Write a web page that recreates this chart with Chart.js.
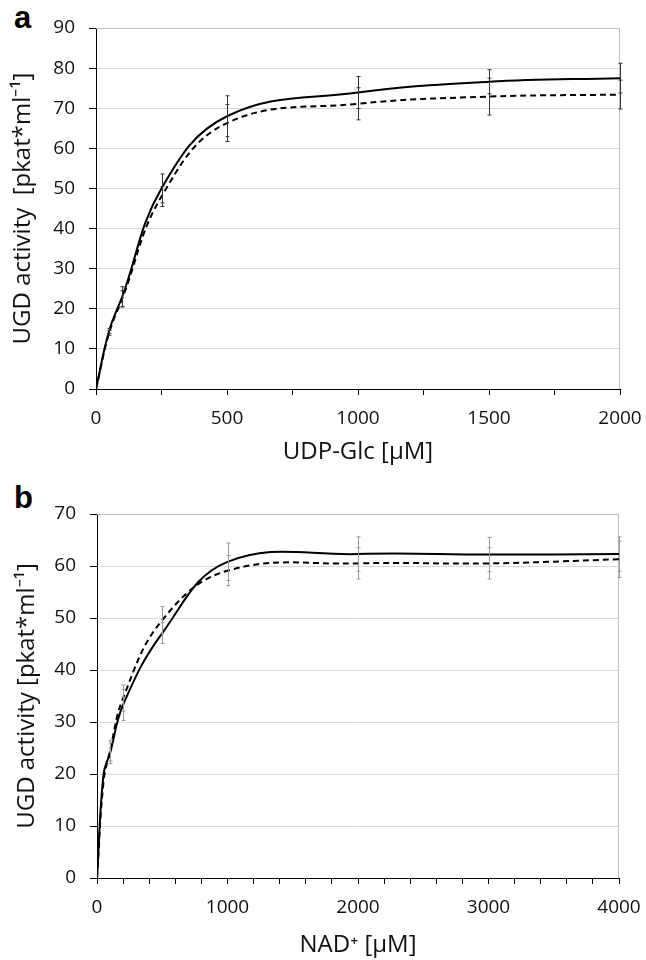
<!DOCTYPE html>
<html>
<head>
<meta charset="utf-8">
<script src="https://cdn.jsdelivr.net/npm/chart.js@4"></script>
<style>
  body { margin: 0; background: #fff; }
  #wrap { position: relative; width: 646px; height: 960px; }
  canvas { position: absolute; left: 0; }
  .panel { position: absolute; left: 14px; font: bold 31px 'Liberation Sans', Arial, sans-serif; line-height: 1; }
</style>
</head>
<body>
<div id="wrap">
  <div class="panel" style="top:2px">a</div>
  <canvas id="chartA" width="646" height="480" style="top:0"></canvas>
  <div class="panel" style="top:482px">b</div>
  <canvas id="chartB" width="646" height="480" style="top:480px"></canvas>
</div>
<script>
// panel a: UDP-Glc
const aConc = [0, 50, 100, 250, 500, 1000, 1500, 2000];
const aSolid = [0, 14.5, 23, 50, 68, 73.9, 76.6, 77.5];
const aSolidErr = [0, 0.6, 2.5, 3.6, 5.1, 4, 3, 3.7];
const aDashed = [0, 14, 22.5, 48, 66.3, 71.1, 72.9, 73.4];
const aDashedErr = [0, 0.6, 2, 2.5, 4.6, 4, 4.6, 3.6];

// panel b: NAD+
const bConc = [0, 50, 100, 200, 500, 1000, 2000, 3000, 4000];
const bSolid = [0, 20, 24, 33.3, 47.1, 60.8, 62.3, 62.2, 62.3];
const bSolidErr = [0, 0, 2, 3, 2, 3.6, 3.3, 3.3, 3.3];
const bDashed = [0, 18.5, 24.5, 34.6, 49.6, 59.1, 60.5, 60.5, 61.3];
const bDashedErr = [0, 0, 2, 2.5, 2.6, 2.9, 3, 3, 3.5];

Chart.defaults.font.family = "'Open Sans', sans-serif";
Chart.defaults.color = '#111';

const toXY = (xs, ys) => xs.map((x, i) => ({ x: x, y: ys[i] }));

// error bars + grey plot frame
const extras = {
  id: 'extras',
  beforeDatasetsDraw(chart) {
    const { ctx, chartArea: a } = chart;
    ctx.save();
    ctx.strokeStyle = '#bfbfbf';
    ctx.lineWidth = 1;
    ctx.beginPath();
    ctx.moveTo(a.left, a.top + 0.5);
    ctx.lineTo(a.right - 0.5, a.top + 0.5);
    ctx.lineTo(a.right - 0.5, a.bottom);
    ctx.stroke();
    ctx.restore();
  },
  afterDatasetsDraw(chart, args, opts) {
    const { ctx, scales } = chart;
    ctx.save();
    ctx.strokeStyle = opts.color;
    ctx.lineWidth = 1;
    chart.data.datasets.forEach(ds => {
      ds.data.forEach((p, i) => {
        const e = ds.errors[i];
        if (!e) return;
        const x = Math.round(scales.x.getPixelForValue(p.x)) + 0.5;
        const y1 = scales.y.getPixelForValue(p.y - e);
        const y2 = scales.y.getPixelForValue(p.y + e);
        ctx.beginPath();
        ctx.moveTo(x, y1); ctx.lineTo(x, y2);
        ctx.moveTo(x - 2, y1); ctx.lineTo(x + 2, y1);
        ctx.moveTo(x - 2, y2); ctx.lineTo(x + 2, y2);
        ctx.stroke();
      });
    });
    ctx.restore();
  }
};

function makeChart(id, conc, solid, solidErr, dashed, dashedErr, cfg) {
  return new Chart(document.getElementById(id), {
    type: 'line',
    data: {
      datasets: [
        { data: toXY(conc, solid), errors: solidErr, borderColor: '#000', borderWidth: 2, pointRadius: 0, tension: 0.4 },
        { data: toXY(conc, dashed), errors: dashedErr, borderColor: '#000', borderWidth: 2, borderDash: [6, 4], pointRadius: 0, tension: 0.4 }
      ]
    },
    options: {
      responsive: false,
      animation: false,
      layout: { padding: cfg.padding },
      plugins: {
        legend: { display: false },
        tooltip: { enabled: false },
        extras: { color: cfg.errColor }
      },
      scales: {
        x: {
          type: 'linear',
          min: 0, max: cfg.xMax,
          afterFit: s => { s.height = cfg.xHeight; s.paddingLeft = 0; s.paddingRight = 0; },
          border: { color: '#000', width: 1 },
          grid: { drawOnChartArea: false, tickLength: 6, tickColor: '#000' },
          ticks: {
            stepSize: cfg.xMinor, autoSkip: false, maxRotation: 0, padding: 12,
            font: { size: 19 },
            callback: v => (v % cfg.xMajor === 0 ? String(v) : '')
          },
          title: { display: true, text: cfg.xTitle, font: { size: 24 }, padding: { top: 0, bottom: cfg.xTitlePad } }
        },
        y: {
          min: 0, max: cfg.yMax,
          afterFit: s => { s.width = cfg.yWidth; },
          border: { color: '#000', width: 1 },
          grid: { color: '#d9d9d9', tickColor: '#000', tickLength: 7 },
          ticks: { stepSize: 10, padding: 14, font: { size: 19 } },
          title: { display: true, text: cfg.yTitle, font: { size: 24 }, padding: { top: cfg.yTitlePad, bottom: 0 } }
        }
      }
    },
    plugins: [extras]
  });
}

makeChart('chartA', aConc, aSolid, aSolidErr, aDashed, aDashedErr, {
  padding: { top: 28, right: 26, bottom: 0, left: 0 },
  xMax: 2000, xMinor: 250, xMajor: 500, xHeight: 91, xTitlePad: 13,
  yMax: 90, yWidth: 96, yTitlePad: 9,
  xTitle: 'UDP-Glc [μM]', yTitle: 'UGD activity  [pkat*ml⁻¹]',
  errColor: '#333'
});

makeChart('chartB', bConc, bSolid, bSolidErr, bDashed, bDashedErr, {
  padding: { top: 34, right: 27, bottom: 0, left: 0 },
  xMax: 4000, xMinor: 200, xMajor: 1000, xHeight: 82, xTitlePad: 0,
  yMax: 70, yWidth: 97, yTitlePad: 13,
  xTitle: 'NAD⁺ [μM]', yTitle: 'UGD activity [pkat*ml⁻¹]',
  errColor: '#999'
});
</script>
</body>
</html>
